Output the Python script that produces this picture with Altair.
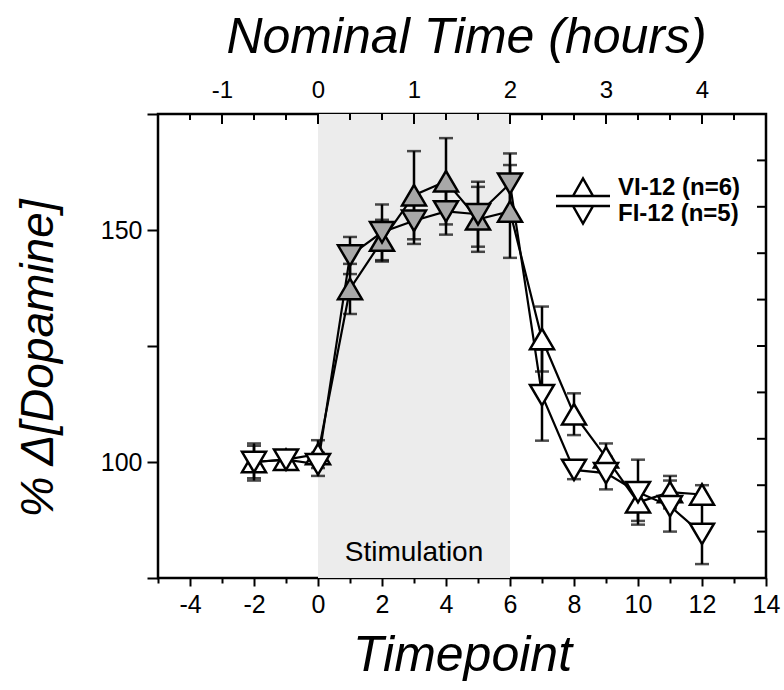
import altair as alt
import pandas as pd

# ---------------- data ----------------
timepoints = [-2, -1, 0, 1, 2, 3, 4, 5, 6, 7, 8, 9, 10, 11, 12]
vi_mean = [100, 100.5, 101.7, 137.3, 147.7, 157.5, 160.5, 152.3, 154, 126.5, 110.3, 101, 91.3, 93.5, 93]
vi_err = [3.5, 2, 3, 5.4, 4.5, 9.5, 9.3, 7, 10, 7, 4.5, 3, 4, 3.5, 2]
fi_mean = [100, 100.5, 99.5, 144.5, 149.5, 152, 154, 153.4, 160, 114.4, 98.3, 97.6, 93.5, 90.5, 84.5]
fi_err = [4, 2, 2.5, 4, 6, 5, 5, 7, 6.5, 9.8, 2, 3.5, 7, 5.5, 6.5]
series_names = ["VI-12 (n=6)", "FI-12 (n=5)"]

stim_start = [0]
stim_end = [6]
stim_label = ["Stimulation"]
stim_label_y = [80.3]

x_domain = [-5, 14]
y_domain = [75, 175]
x_tick_values = list(range(-5, 15))
hour_tick_values = [-3, 0, 3, 6, 9, 12]
samples_per_hour = 3
y_tick_values = [75, 100, 125, 150, 175]
y_label_values = [100, 150]
right_tick_values = list(range(75, 176, 10))

# ---------------- tables ----------------
rows = []
for name, means, errs in ((series_names[0], vi_mean, vi_err),
                          (series_names[1], fi_mean, fi_err)):
    for t, m, e in zip(timepoints, means, errs):
        rows.append({"tp": t, "mean": m, "lo": m - e, "hi": m + e, "series": name})
df = pd.DataFrame(rows)

stim_df = pd.DataFrame({"start": stim_start, "end": stim_end,
                        "y0": [y_domain[0]], "y1": [y_domain[1]],
                        "xm": [(a + b) / 2 for a, b in zip(stim_start, stim_end)],
                        "ym": stim_label_y, "label": stim_label})
xt = pd.DataFrame({"v": x_tick_values})
xt["major"] = xt["v"] % samples_per_hour == 0
yt = pd.DataFrame({"v": right_tick_values})

# ---------------- styling ----------------
W, H = 608, 464
FONT = "Liberation Sans"
xs = alt.Scale(domain=x_domain, nice=False, zero=False)
ys = alt.Scale(domain=y_domain, nice=False, zero=False)

up_path = "M-1,0.85L1,0.85L0,-0.85Z"
down_path = "M-1,-0.85L1,-0.85L0,0.85Z"
# legend symbols: unit = 10 px (symbolSize 400); line spans 54 px
leg_up = "M-2.7,0.8L2.7,0.8M-1,0.8L0,-0.95L1,0.8Z"
leg_down = "M-2.7,-0.8L2.7,-0.8M-1,-0.8L0,0.95L1,-0.8Z"

bottom_axis = alt.Axis(
    orient="bottom", values=x_tick_values,
    labelExpr="datum.value % 2 === 0 ? '' + datum.value : ''",
    tickSize={"condition": {"test": "datum.value % 2 === 0", "value": 8}, "value": 5},
    tickWidth=2, tickColor="black", domain=False, grid=False,
    labelFontSize=25, labelPadding=6, labelColor="black", labelFont=FONT,
    labelFlush=False, labelOverlap=False,
    title="Timepoint", titleFontSize=50, titleFontStyle="italic", titleFontWeight="normal",
    titleFont=FONT, titleColor="black", titleX=W / 2, titleY=92,
    titleBaseline="alphabetic", titleAlign="center")

left_axis = alt.Axis(
    orient="left", values=y_tick_values,
    labelExpr=f"indexof({y_label_values}, datum.value) >= 0 ? '' + datum.value : ''",
    tickSize=11, tickWidth=2, tickColor="black", domain=False, grid=False,
    labelFontSize=25, labelPadding=5, labelColor="black", labelFont=FONT,
    labelFlush=False, labelOverlap=False,
    title="% Δ[Dopamine]", titleFontSize=46, titleFontStyle="italic", titleFontWeight="normal",
    titleFont=FONT, titleColor="black", titleX=-106, titleY=H / 2 + 12, titleAngle=270,
    titleBaseline="alphabetic", titleAlign="center")

top_axis = alt.Axis(
    orient="top", values=hour_tick_values,
    labelExpr=f"'' + (datum.value / {samples_per_hour})",
    ticks=False, domain=False, grid=False,
    labelFontSize=24, labelPadding=12, labelColor="black", labelFont=FONT,
    labelFlush=False, labelOverlap=False,
    title="Nominal Time (hours)", titleFontSize=50, titleFontStyle="italic",
    titleFontWeight="normal", titleFont=FONT, titleColor="black",
    titleX=W / 2 + 4, titleY=-62, titleBaseline="alphabetic", titleAlign="center")

# ---------------- layers ----------------
shade = alt.Chart(stim_df).mark_rect(color="#ececec").encode(
    x=alt.X("start:Q", scale=xs, axis=top_axis),
    x2="end:Q",
    y=alt.Y("y0:Q", scale=ys, axis=left_axis),
    y2="y1:Q")

stim_text = alt.Chart(stim_df).mark_text(fontSize=28, font=FONT, color="black").encode(
    x=alt.X("xm:Q", scale=xs, axis=None),
    y=alt.Y("ym:Q", scale=ys, axis=None),
    text="label:N")

top_major = alt.Chart(xt).transform_filter("datum.major").mark_rule(
    color="black", strokeWidth=2).encode(
    x=alt.X("v:Q", scale=xs, axis=None), y=alt.value(0), y2=alt.value(10))
top_minor = alt.Chart(xt).transform_filter("!datum.major").mark_rule(
    color="black", strokeWidth=2).encode(
    x=alt.X("v:Q", scale=xs, axis=None), y=alt.value(0), y2=alt.value(6))
right_ticks = alt.Chart(yt).mark_rule(color="black", strokeWidth=2).encode(
    y=alt.Y("v:Q", scale=ys, axis=None), x=alt.value(W), x2=alt.value(W - 9))

lines = alt.Chart(df).mark_line(color="black", strokeWidth=2.2).encode(
    x=alt.X("tp:Q", scale=xs, axis=bottom_axis),
    y=alt.Y("mean:Q", scale=ys, axis=None),
    detail="series:N")

stems = alt.Chart(df).mark_rule(color="black", strokeWidth=2.5).encode(
    x=alt.X("tp:Q", scale=xs, axis=None),
    y=alt.Y("lo:Q", scale=ys, axis=None),
    y2="hi:Q")

caps = alt.Chart(df).transform_fold(["lo", "hi"], as_=["end", "val"]).mark_tick(
    orient="horizontal", size=14, thickness=2.5, color="black").encode(
    x=alt.X("tp:Q", scale=xs, axis=None),
    y=alt.Y("val:Q", scale=ys, axis=None))

points = alt.Chart(df).mark_point(filled=True, stroke="black", strokeWidth=2.5,
                                  size=576, opacity=1).encode(
    x=alt.X("tp:Q", scale=xs, axis=None),
    y=alt.Y("mean:Q", scale=ys, axis=None),
    shape=alt.Shape("series:N", scale=alt.Scale(domain=series_names,
                                                range=[up_path, down_path]), legend=None),
    fill=alt.condition(f"datum.tp > {stim_start[0]} && datum.tp <= {stim_end[0]}",
                       alt.value("#a8a8a8"), alt.value("white")))

legend_layer = alt.Chart(df).mark_point(opacity=0, filled=False).encode(
    x=alt.X("tp:Q", scale=xs, axis=None),
    y=alt.Y("mean:Q", scale=ys, axis=None),
    shape=alt.Shape("series:N",
                    scale=alt.Scale(domain=series_names, range=[leg_up, leg_down]),
                    legend=alt.Legend(title=None, orient="none", legendX=413, legendY=62,
                                      symbolSize=400, symbolStrokeWidth=2.5,
                                      symbolStrokeColor="black", symbolFillColor="white",
                                      symbolOpacity=1, labelFontSize=24,
                                      labelFontWeight="bold", labelFont=FONT,
                                      labelColor="black", labelOffset=23, rowPadding=0,
                                      padding=0)))

chart = alt.layer(shade, stim_text, top_major, top_minor, right_ticks, lines, stems,
                  caps, points, legend_layer).resolve_scale(
    shape="independent").resolve_axis(x="independent", y="independent").properties(
    width=W, height=H,
    autosize=alt.AutoSizeParams(type="none"),
    padding={"left": 158, "top": 114, "right": 18, "bottom": 112},
    background="white").configure_view(stroke="black", strokeWidth=2.5)

chart.save("out.html", embed_options={"renderer": "svg", "actions": False})
